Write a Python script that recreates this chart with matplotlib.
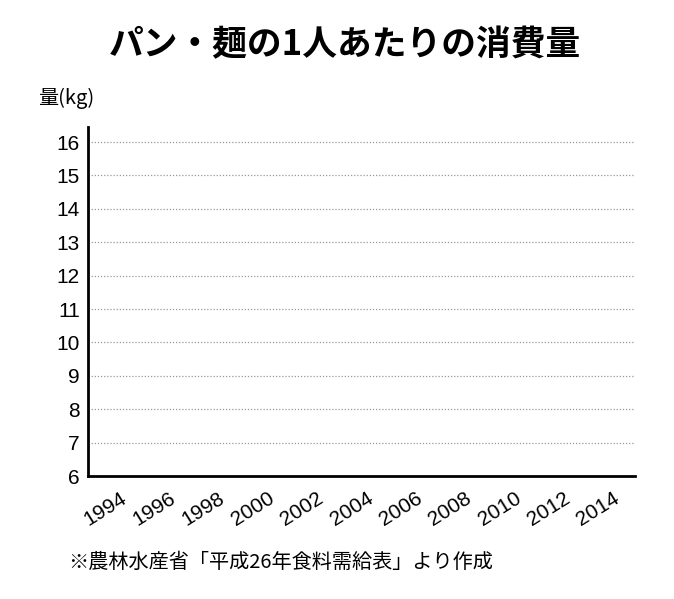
import matplotlib
matplotlib.use('Agg')
import matplotlib.pyplot as plt

# chart data (the reference shows an empty plot area)
years = [1994, 1996, 1998, 2000, 2002, 2004, 2006, 2008, 2010, 2012, 2014]
y_ticks = [6, 7, 8, 9, 10, 11, 12, 13, 14, 15, 16]
title = "パン・麺の1人あたりの消費量"
unit_label = "量(kg)"
source_note = "※農林水産省「平成26年食料需給表」より作成"

plt.rcParams['font.family'] = ['Noto Sans CJK JP', 'DejaVu Sans']

fig = plt.figure(figsize=(6.74, 5.99), dpi=100)
ax = fig.add_axes([88 / 674, 1 - 476 / 599, (635 - 88) / 674, (476 - 127) / 599])

ax.set_ylim(6, 16.45)
ax.set_xlim(1993.31, 2015.5)
ax.set_yticks(y_ticks)
ax.set_xticks(years)
ax.set_xticklabels([str(y) for y in years], rotation=32, ha='center', va='center',
                   family=['Liberation Sans', 'DejaVu Sans'])
ax.set_yticklabels([str(v) for v in y_ticks], family=['Liberation Sans', 'DejaVu Sans'])
ax.tick_params(axis='both', length=0, labelsize=15)
ax.tick_params(axis='y', pad=6)
ax.tick_params(axis='x', pad=24)

for v in y_ticks[1:]:
    ax.axhline(v, color='#999999', linestyle=(0, (1, 1.5)), linewidth=0.9)

for side in ['top', 'right']:
    ax.spines[side].set_visible(False)
for side in ['left', 'bottom']:
    ax.spines[side].set_linewidth(2)
    ax.spines[side].set_color('black')

fig.text(345 / 674, 1 - 45 / 599, title, ha='center', va='center',
         fontsize=25, fontweight='bold')
fig.text(38 / 674, 1 - 98 / 599, unit_label, ha='left', va='center', fontsize=14.5)
fig.text(68 / 674, 1 - 562 / 599, source_note, ha='left', va='center', fontsize=14.5)

plt.savefig('out.png', dpi=100)
plt.close()
